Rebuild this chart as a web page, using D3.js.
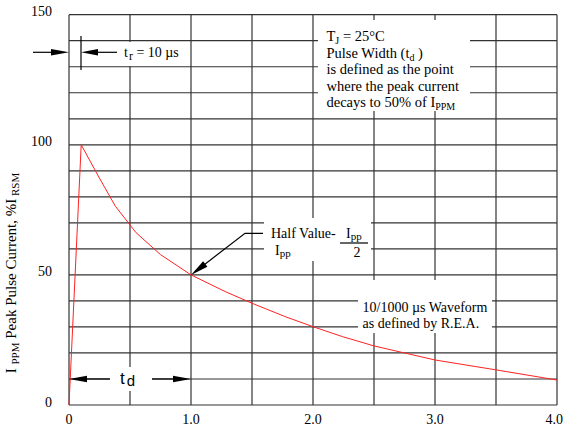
<!DOCTYPE html>
<html>
<head>
<meta charset="utf-8">
<script src="https://cdn.jsdelivr.net/npm/d3@7"></script>
<style>
  body { margin: 0; background: #fff; }
  text { font-family: "Liberation Serif", "Times New Roman", serif; font-size: 14px; fill: #000; }
</style>
</head>
<body>
<div id="viz"></div>
<script>
// 10/1000 us waveform
var time    = [0, 0.1, 0.24, 0.38, 0.55, 0.75, 1.0, 1.28, 1.5, 1.77, 2.0, 2.24, 2.5, 3.0, 3.5, 4.0];
var current = [0, 100, 88, 76.4, 66.2, 57.8, 50, 43.6, 39.1, 34, 30.1, 26.3, 22.7, 17.3, 13.5, 9.6];

var xTicks = [0, 1, 2, 3, 4];
var xTickLabels = ["0", "1.0", "2.0", "3.0", "4.0"];
var yTicks = [0, 50, 100, 150];

var data = time.map(function(t, i){ return {t: t, v: current[i]} });

var W = 564, H = 428;
var margin = {top: 14.7, right: 7, bottom: 23, left: 69},
    width = W - margin.left - margin.right,
    height = H - margin.top - margin.bottom;

var svg = d3.select("#viz").append("svg")
  .attr("width", W)
  .attr("height", H);

var x = d3.scaleLinear().domain([0, 4]).range([margin.left, margin.left + width]);
var y = d3.scaleLinear().domain([0, 150]).range([margin.top + height, margin.top]);

// grid
var grid = svg.append("g").attr("stroke", "#333").attr("stroke-width", 1.2);
grid.selectAll("line.v")
  .data(x.ticks(8))
  .enter().append("line")
    .attr("x1", function(d){ return x(d) }).attr("x2", function(d){ return x(d) })
    .attr("y1", y(0)).attr("y2", y(150));
grid.selectAll("line.h")
  .data(y.ticks(15))
  .enter().append("line")
    .attr("x1", x(0)).attr("x2", x(4))
    .attr("y1", function(d){ return y(d) }).attr("y2", function(d){ return y(d) });

// white boxes behind the notes
function mask(x0, y0, x1, y1){
  svg.append("rect").attr("x", x0).attr("y", y0)
    .attr("width", x1 - x0).attr("height", y1 - y0).attr("fill", "#fff");
}
mask(318, 20, 470, 111);
mask(119, 42, 186, 66);
mask(264, 218, 371, 261);
mask(358, 280, 492, 333);
mask(110, 367, 152, 391);

// curve
var line = d3.line().x(function(d){ return x(d.t) }).y(function(d){ return y(d.v) });
svg.append("path")
  .datum(data)
  .attr("d", line)
  .attr("fill", "none")
  .attr("stroke", "#f22")
  .attr("stroke-width", 1);

// arrows
function head(tx, ty, fx, fy, len, hw){
  var dx = tx - fx, dy = ty - fy, l = Math.sqrt(dx*dx + dy*dy);
  var ux = dx / l, uy = dy / l;
  var bx = tx - ux * len, by = ty - uy * len;
  svg.append("path")
    .attr("d", "M" + tx + "," + ty +
               "L" + (bx - uy * hw) + "," + (by + ux * hw) +
               "L" + (bx + uy * hw) + "," + (by - ux * hw) + "Z")
    .attr("fill", "#000");
}
function seg(pts){
  svg.append("path")
    .attr("d", d3.line()(pts))
    .attr("fill", "none").attr("stroke", "#000").attr("stroke-width", 1.2);
}

// t_r arrows
var ar = 52.3;
seg([[33, ar], [55, ar]]);
head(x(0), ar, 33, ar, 18, 3.2);
seg([[81, 36], [81, 70]]);
seg([[95, ar], [117, ar]]);
head(81, ar, 117, ar, 17, 3.2);

// t_d arrows
var ad = y(10);
seg([[x(0) + 15, ad], [110, ad]]);
head(x(0), ad, 110, ad, 18, 3.2);
seg([[152, ad], [x(1) - 15, ad]]);
head(x(1), ad, 152, ad, 18, 3.2);

// half value arrow
seg([[263, 233.3], [245, 233.3], [x(1) + 10, y(50) - 7.7]]);
head(x(1), y(50), 245, 233.3, 18, 3.5);

// axis labels
svg.selectAll("text.yl")
  .data(yTicks)
  .enter().append("text")
    .attr("x", 52)
    .attr("y", function(d){ return y(d) + 1.5 })
    .attr("text-anchor", "end")
    .text(function(d){ return d });

svg.selectAll("text.xl")
  .data(xTicks)
  .enter().append("text")
    .attr("x", function(d, i){ return i == xTicks.length - 1 ? W - 1 : x(d) })
    .attr("y", 424)
    .attr("text-anchor", function(d, i){ return i == xTicks.length - 1 ? "end" : "middle" })
    .text(function(d, i){ return xTickLabels[i] });

var yt = svg.append("text")
  .attr("transform", "translate(16," + 273 + ") rotate(-90)")
  .attr("text-anchor", "middle")
  .style("font-size", "15px");
yt.append("tspan").text("I ");
yt.append("tspan").attr("dy", 3).attr("font-size", 11).text("PPM");
yt.append("tspan").attr("dy", -3).text(" Peak Pulse Current, %I");
yt.append("tspan").attr("dy", 3).attr("font-size", 11).text(" RSM");

// t_r label
var tr = svg.append("text").attr("x", 124).attr("y", 57);
tr.append("tspan").text("t");
tr.append("tspan").attr("dy", 3).attr("dx", 1).attr("font-size", 12).text("r");
tr.append("tspan").attr("dy", -3).text(" = 10 \u00b5s");

// t_d label
var td = svg.append("text").attr("x", 120).attr("y", 384)
  .style("font-family", "'Liberation Sans', Arial, sans-serif").style("font-size", "17px");
td.append("tspan").text("t");
td.append("tspan").attr("dy", 2).attr("dx", 2).style("font-size", "15px").text("d");

// top note
var notes = [
  [{t: "T"}, {t: "J", sub: true}, {t: " = 25\u00b0C"}],
  [{t: "Pulse Width (t"}, {t: "d", sub: true}, {t: " )"}],
  [{t: "is defined as the point"}],
  [{t: "where the peak current"}],
  [{t: "decays to 50% of I"}, {t: "PPM", sub: true}]
];
notes.forEach(function(parts, i){
  var tx = svg.append("text").attr("x", 326.5).attr("y", 41 + i * 16.5)
    .style("font-size", "14.5px");
  parts.forEach(function(p, j){
    var prev = j > 0 && parts[j - 1].sub;
    tx.append("tspan")
      .attr("dy", p.sub ? 3 : (prev ? -3 : 0))
      .attr("font-size", p.sub ? 10 : null)
      .text(p.t);
  });
});

// half value note
svg.append("text").attr("x", 271).attr("y", 238).text("Half Value-");
var n1 = svg.append("text").attr("x", 346).attr("y", 238);
n1.append("tspan").text("I");
n1.append("tspan").attr("font-size", 11).attr("dy", 2).text("pp");
seg([[340, 243], [368, 243]]);
svg.append("text").attr("x", 357).attr("y", 257).attr("text-anchor", "middle").text("2");
var n2 = svg.append("text").attr("x", 275).attr("y", 255);
n2.append("tspan").text("I");
n2.append("tspan").attr("font-size", 11).attr("dy", 2).text("pp");

// waveform note
svg.append("text").attr("x", 362.5).attr("y", 312).text("10/1000 \u00b5s Waveform");
svg.append("text").attr("x", 362.5).attr("y", 328).text("as defined by R.E.A.");
</script>
</body>
</html>
